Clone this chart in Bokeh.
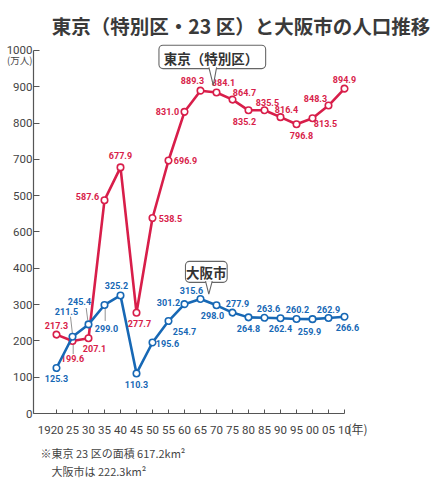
from bokeh.plotting import figure
from bokeh.models import Range1d, FixedTicker, Label, ColumnDataSource
from bokeh.core.properties import value
from bokeh.embed import file_html
from bokeh.resources import INLINE

# ---------------- data ----------------
years = [1920, 1925, 1930, 1935, 1940, 1945, 1950, 1955, 1960, 1965,
         1970, 1975, 1980, 1985, 1990, 1995, 2000, 2005, 2010]
tokyo = [217.3, 199.6, 207.1, 587.6, 677.9, 277.7, 538.5, 696.9, 831.0, 889.3,
         884.1, 864.7, 835.2, 835.5, 816.4, 796.8, 813.5, 848.3, 894.9]
osaka = [125.3, 211.5, 245.4, 299.0, 325.2, 110.3, 195.6, 254.7, 301.2, 315.6,
         298.0, 277.9, 264.8, 263.6, 262.4, 260.2, 259.9, 262.9, 266.6]
x_tick_labels = ["1920\u2003", "25", "30", "35", "40", "45", "50", "55", "60", "65",
                 "70", "75", "80", "85", "90", "95", "00", "05", "10"]
y_ticks = [0, 100, 200, 300, 400, 500, 600, 700, 800, 900, 1000]
y_tick_labels = ["0", "100", "200", "300", "400", "600", "500", "700", "800", "900", "1000"]

title_text = "東京（特別区・23 区）と大阪市の人口推移"
tokyo_name = "東京（特別区）"
osaka_name = "大阪市"
unit_y = "(万人)"
unit_x = "(年)"
note1 = "※東京 23 区の面積 617.2km²"
note2 = "大阪市は 222.3km²"

# ---------------- label placement (pixels, right / down) ----------------
tokyo_dx = [0, 0, 6, -17, 0, 3, 18, 17, -17, -8, 7, 12, -4, 3, 6, 5, 13, -13, 0]
tokyo_dy = [-9.5, 17, 10, -4, -12, 11, 0, 0, 0, -10, -10, -7, 11, -8, -8, 11, 5, -7, -9]
osaka_dx = [0, -6, -9, 2, -4, 0, 15, 16, -16, -9, -4, 5, 0, 4, 0, 1, -3, 0, 3]
osaka_dy = [10.5, -25.6, -23, 24, -10, 11, 1, 10, -2, -8, 10, -9, 11, -9, 10, -10, 12, -9, 11]

TOKYO = "#d81e4a"
OSAKA = "#1768b5"
INK = "#444444"
AXIS = "#555555"
JP = "Noto Sans CJK JP"

# ---------------- layout ----------------
W, H = 436, 490
ML, MR, MT, MB = 33, 50, 40, 77
X0, X1 = 1912.8125, 2023.125
Y0, Y1 = 0.0, 1027.5
PXX = (W - ML - MR) / (X1 - X0)
PXY = (H - MT - MB) / (Y1 - Y0)


def shift(x, y, dx, dy):
    return x + dx / PXX, y - dy / PXY


p = figure(width=W, height=H, x_range=Range1d(X0, X1), y_range=Range1d(Y0, Y1),
           output_backend="svg", toolbar_location=None,
           min_border_left=ML, min_border_right=MR,
           min_border_top=MT, min_border_bottom=MB)
p.title.visible = False
p.outline_line_color = None
p.grid.visible = False
p.background_fill_color = "white"
p.border_fill_color = "white"

# x axis
xa = p.xaxis[0]
xa.ticker = FixedTicker(ticks=years)
xa.major_label_overrides = dict(zip(years, x_tick_labels))
xa.bounds = (X0, 2010)
xa.major_tick_in = 4
xa.major_tick_out = 0
xa.minor_tick_in = 0
xa.minor_tick_out = 0
xa.axis_line_color = AXIS
xa.axis_line_width = 1.2
xa.major_tick_line_color = AXIS
xa.major_label_text_font = "Roboto"
xa.major_label_text_font_size = "11.5px"
xa.major_label_text_color = INK
xa.major_label_standoff = 9

# y axis
ya = p.yaxis[0]
ya.ticker = FixedTicker(ticks=y_ticks)
ya.major_label_overrides = dict(zip(y_ticks, y_tick_labels))
ya.bounds = (0, 1000)
ya.major_tick_in = 6
ya.major_tick_out = 0
ya.minor_tick_in = 0
ya.minor_tick_out = 0
ya.axis_line_color = AXIS
ya.axis_line_width = 1.2
ya.major_tick_line_color = AXIS
ya.major_label_text_font = "Roboto"
ya.major_label_text_font_size = "11.5px"
ya.major_label_text_color = INK
ya.major_label_standoff = 1

# leader lines
leaders = [(tokyo, 1, 0.7, 2.3, 0.7, 13), (osaka, 1, -2, -20, 0, -2.3),
           (osaka, 2, -2.3, -16.4, -0.7, -4), (osaka, 3, 0.7, 3.3, 0.7, 16)]
lx0, ly0, lx1, ly1 = [], [], [], []
for ser, i, a, b, c, d in leaders:
    xx, yy = shift(years[i], ser[i], a, b)
    lx0.append(xx); ly0.append(yy)
    xx, yy = shift(years[i], ser[i], c, d)
    lx1.append(xx); ly1.append(yy)
p.segment(lx0, ly0, lx1, ly1, line_color="#777777", line_width=0.8)

# series
for ser, col, dxs, dys in [(tokyo, TOKYO, tokyo_dx, tokyo_dy), (osaka, OSAKA, osaka_dx, osaka_dy)]:
    p.line(years, ser, line_color=col, line_width=2.6, line_join="round")
    p.scatter(years, ser, size=6.5, fill_color="white", line_color=col, line_width=1.6)
    src = ColumnDataSource(dict(x=years, y=ser, text=[f"{v:.1f}" for v in ser], dx=dxs, dy=dys))
    p.text(x="x", y="y", text="text", x_offset="dx", y_offset="dy", source=src,
           text_font=value("Roboto"), text_font_style="bold", text_font_size="9px",
           text_color=col, text_align="center", text_baseline="middle")

# callouts (tip anchor in data units, box relative in pixels)
callouts = [
    (tokyo_name, 1969.0, 904.0, -1.0, -28.4, 106.7, 23.3, -4.4, 3.3, -2.2, -27.7),
    (osaka_name, 1967.6, 329.0, -2.5, -22.2, 41.7, 21.0, -3.3, 3.4, -2.5, -22.0),
]
for name, tx, ty, cx, cy, bw, bh, b0, b1, tdx, tdy in callouts:
    left, top = shift(tx, ty, cx - bw / 2, cy - bh / 2)
    right, bottom = shift(tx, ty, cx + bw / 2, cy + bh / 2)
    p.quad(left=[left], right=[right], top=[top], bottom=[bottom],
           fill_color="white", line_color="#666666", line_width=1.1, border_radius=4)
    by = cy + bh / 2 - 1.2
    ax, ay = shift(tx, ty, b0, by)
    bx, bby = shift(tx, ty, b1, by)
    p.patch([ax, tx, bx], [ay, ty, bby], fill_color="white", line_color=None)
    p.line([ax, tx, bx], [ay, ty, bby], line_color="#666666", line_width=1.1)
    p.text(x=[tx], y=[ty], text=[name], x_offset=tdx, y_offset=tdy,
           text_font=value(JP), text_font_style="bold",
           text_font_size="13.5px", text_color="#333333",
           text_align="center", text_baseline="middle")

# texts outside the frame (placed in side panels so they are not clipped)
p.add_layout(Label(x=1920, y=1000, x_offset=184.5, y_offset=25, text=title_text,
                   text_font=JP, text_font_style="bold",
                   text_font_size="19.5px", text_color="#3a3a3a",
                   text_align="center", text_baseline="middle"), "above")
p.add_layout(Label(x=X0, y=1000, x_offset=-1, y_offset=-10, text=unit_y,
                   text_font=JP, text_font_size="9.5px",
                   text_color=INK, text_align="right", text_baseline="middle"), "right")
p.add_layout(Label(x=2010, y=0, x_offset=3, y_offset=-15, text=unit_x,
                   text_font=JP, text_font_size="12px",
                   text_color=INK, text_align="left", text_baseline="middle"), "right")
p.add_layout(Label(x=X0, y=0, x_offset=7, y_offset=-39, text=note1,
                   text_font=JP, text_font_size="11px",
                   text_color=INK, text_align="left", text_baseline="middle"), "below")
p.add_layout(Label(x=X0, y=0, x_offset=18, y_offset=-57, text=note2,
                   text_font=JP, text_font_size="11px",
                   text_color=INK, text_align="left", text_baseline="middle"), "below")

open("out.html", "w").write(file_html(p, INLINE))
